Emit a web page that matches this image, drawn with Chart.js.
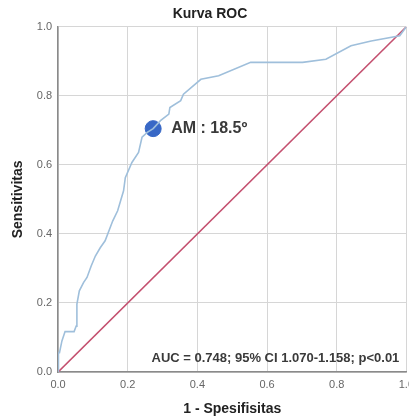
<!DOCTYPE html>
<html>
<head>
<meta charset="utf-8">
<script src="https://cdn.jsdelivr.net/npm/chart.js@4/dist/chart.umd.min.js"></script>
<style>
  html, body { margin: 0; padding: 0; background: #fff; overflow: hidden; }
  #wrap { position: relative; width: 420px; height: 418px; }
</style>
</head>
<body>
<div id="wrap"><canvas id="roc"></canvas></div>
<script>
// ROC curve (1 - specificity, sensitivity)
const rocFpr = [0, 0.001, 0.004, 0.011, 0.020, 0.046, 0.052, 0.054, 0.061, 0.073, 0.083, 0.095, 0.107, 0.121, 0.135, 0.157, 0.171, 0.188, 0.193, 0.212, 0.231, 0.241, 0.256, 0.273, 0.294, 0.318, 0.321, 0.352, 0.360, 0.410, 0.461, 0.553, 0.640, 0.702, 0.769, 0.841, 0.899, 0.981, 1];
const rocTpr = [0, 0.056, 0.056, 0.090, 0.117, 0.117, 0.133, 0.197, 0.235, 0.259, 0.274, 0.307, 0.336, 0.360, 0.380, 0.438, 0.467, 0.525, 0.563, 0.607, 0.636, 0.680, 0.694, 0.705, 0.728, 0.747, 0.766, 0.786, 0.805, 0.848, 0.858, 0.897, 0.897, 0.897, 0.906, 0.945, 0.959, 0.974, 1];
const refX = [0, 1];
const refY = [0, 1];
const cutoffX = [0.273];
const cutoffY = [0.705];
const cutoffLabel = 'AM : 18.5º';
const aucLabel = 'AUC = 0.748; 95% CI 1.070-1.158; p<0.01';
const axisTicks = [0, 0.2, 0.4, 0.6, 0.8, 1.0];

const FONT = '"Liberation Sans", Arial, sans-serif';

const toPoints = ( xs, ys ) => xs.map( ( v, i ) => ( { x: v, y: ys[ i ] } ) );

const textPlugin = {
	id: 'rocText',
	afterDatasetsDraw( chart ) {
		const { ctx, chartArea } = chart;
		const x = chart.scales.x;
		const y = chart.scales.y;
		ctx.save();
		ctx.fillStyle = '#3a3a3a';
		ctx.textBaseline = 'middle';
		ctx.font = 'bold 16px ' + FONT;
		ctx.textAlign = 'left';
		ctx.fillText( cutoffLabel, x.getPixelForValue( cutoffX[ 0 ] ) + 18, y.getPixelForValue( cutoffY[ 0 ] ) );
		ctx.font = 'bold 13px ' + FONT;
		ctx.textAlign = 'right';
		ctx.fillText( aucLabel, chartArea.right - 7, chartArea.bottom - 14 );
		ctx.restore();
	},
};

const axis = ( title, pad ) => ( {
	type: 'linear',
	min: 0,
	max: 1,
	afterBuildTicks( scale ) {
		scale.ticks = axisTicks.map( ( v ) => ( { value: v } ) );
	},
	ticks: {
		color: '#666',
		padding: 6,
		font: { family: FONT, size: 11 },
		callback: ( v ) => Number( v ).toFixed( 1 ),
	},
	grid: {
		color: '#d6d6d6',
		lineWidth: 1,
		drawTicks: false,
	},
	border: { color: '#8a8a8a', width: 1.5 },
	title: {
		display: true,
		text: title,
		color: '#222',
		font: { family: FONT, size: 14, weight: 'bold' },
		padding: pad,
	},
} );

new Chart( document.getElementById( 'roc' ), {
	type: 'scatter',
	data: {
		datasets: [
			{
				data: toPoints( rocFpr, rocTpr ),
				showLine: true,
				borderColor: '#9fbfdb',
				borderWidth: 1.6,
				pointRadius: 0,
				tension: 0,
			},
			{
				data: toPoints( refX, refY ),
				showLine: true,
				borderColor: '#c4506f',
				borderWidth: 1.6,
				pointRadius: 0,
			},
			{
				data: toPoints( cutoffX, cutoffY ),
				pointRadius: 8,
				pointBackgroundColor: '#3868c6',
				pointBorderColor: '#3868c6',
			},
		],
	},
	options: {
		responsive: true,
		maintainAspectRatio: false,
		animation: false,
		layout: { padding: 0 },
		plugins: {
			legend: { display: false },
			tooltip: { enabled: false },
			title: {
				display: true,
				text: 'Kurva ROC',
				color: '#222',
				font: { family: FONT, size: 14, weight: 'bold' },
				padding: { top: 6, bottom: 4 },
			},
		},
		scales: {
			x: axis( '1 - Spesifisitas', { top: 4, bottom: 0 } ),
			y: axis( 'Sensitivitas', { top: 10, bottom: 4 } ),
		},
	},
	plugins: [ textPlugin ],
} );
</script>
</body>
</html>
